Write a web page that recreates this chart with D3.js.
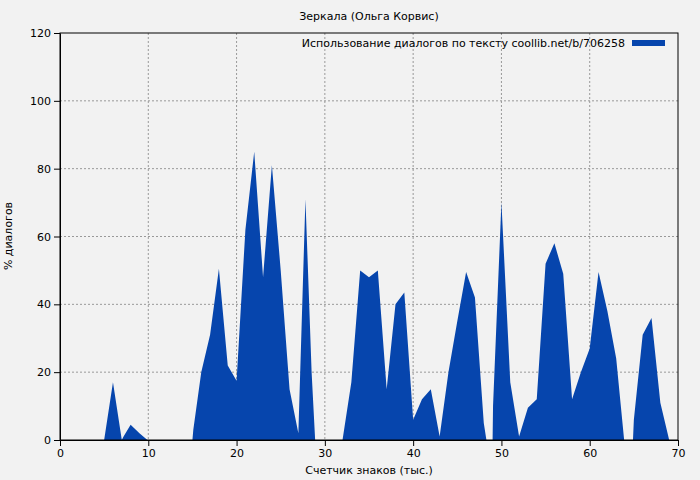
<!DOCTYPE html>
<html><head><meta charset="utf-8">
<script src="https://d3js.org/d3.v7.min.js"></script>
<style>body{margin:0;background:#f2f2f2}text{font-family:"DejaVu Sans",sans-serif}</style>
</head><body><svg id="c" width="700" height="480"></svg>
<script>
// x (тыс. знаков) and % диалогов
var xs = [5,6,7,7.2,8,9,9.9, 15,15.1,16,17,18,19,20,21,22,23,24,25,26,27,27.8,28.5,28.9,
  32,33,34,35,36,37,38,39,40,41,42,43,44,45,46,47,48,48.3,
  49,49.05,50,51,52,53,54,55,56,57,58,59,60,61,62,63,63.9,
  64.9,65,66,67,68,69];
var ys = [0,17,0,1,4.5,2,0, 0,3,20,31,50.5,22,17.5,62,85,48,81,50,15,2,71,20,0,
  0,17,50,48,50,15,40,43.5,6,12,15,1,20,35,49.5,42,5,0,
  0,10,70,17,1,9.5,12,52,58,49,12,20,27,49.5,38,24,0,
  0,6,31,36,11,0];
var xTicks = [0,10,20,30,40,50,60,70];
var yTicks = [0,20,40,60,80,100,120];
var data = xs.map(function(d,i){ return {x:d, y:ys[i]}; });

var svg = d3.select("#c");
var m = {top:33, right:22, bottom:40, left:60};
var w = 700 - m.left - m.right, h = 480 - m.top - m.bottom;
var x = d3.scaleLinear().domain([0,70]).range([0,w]);
var y = d3.scaleLinear().domain([0,120]).range([h,0]);
var g = svg.append("g").attr("transform","translate("+m.left+","+m.top+")");

// grid
g.selectAll(".gx").data(xTicks.slice(1,-1)).enter().append("line")
  .attr("x1",x).attr("x2",x).attr("y1",0).attr("y2",h)
  .attr("stroke","#999").attr("stroke-dasharray","2,2");
g.selectAll(".gy").data(yTicks.slice(1,-1)).enter().append("line")
  .attr("y1",y).attr("y2",y).attr("x1",0).attr("x2",w)
  .attr("stroke","#999").attr("stroke-dasharray","2,2");

g.append("path").datum(data).attr("fill","#0645ad")
  .attr("d", d3.area().x(function(d){return x(d.x);}).y0(h).y1(function(d){return y(d.y);}));

g.append("rect").attr("width",w).attr("height",h).attr("fill","none").attr("stroke","#000");
g.append("g").attr("transform","translate(0,"+h+")")
  .call(d3.axisBottom(x).tickValues(xTicks).tickSizeOuter(0)).selectAll("text").style("font-size","11px");
g.append("g").call(d3.axisLeft(y).tickValues(yTicks).tickSizeOuter(0)).selectAll("text").style("font-size","11px");

svg.append("text").attr("x",369).attr("y",20).attr("text-anchor","middle").style("font-size","11px")
  .text("Зеркала (Ольга Корвис)");
svg.append("text").attr("x",369).attr("y",474).attr("text-anchor","middle").style("font-size","11px")
  .text("Счетчик знаков (тыс.)");
svg.append("text").attr("transform","translate(12,236) rotate(-90)").attr("text-anchor","middle").style("font-size","11px")
  .text("% диалогов");
svg.append("text").attr("x",625).attr("y",47).attr("text-anchor","end").style("font-size","11px")
  .text("Использование диалогов по тексту coollib.net/b/706258");
svg.append("rect").attr("x",632).attr("y",40).attr("width",33).attr("height",6).attr("fill","#0645ad");
</script></body></html>
